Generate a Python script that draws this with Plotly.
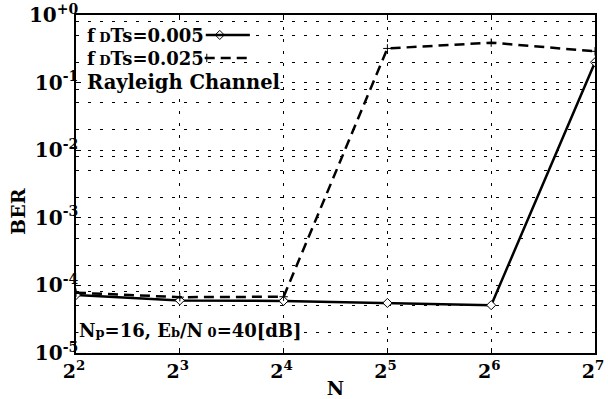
import plotly.graph_objects as go

# ---- data ----
N = [4, 8, 16, 32, 64, 128]
ber_fd005 = [7.2e-5, 6.0e-5, 5.9e-5, 5.5e-5, 5.1e-5, 0.20]
ber_fd025 = [7.8e-5, 6.7e-5, 6.8e-5, 0.32, 0.39, 0.29]
x_tickvals = [4, 8, 16, 32, 64, 128]
x_ticktext = ["2<sup>2</sup>", "2<sup>3</sup>", "2<sup>4</sup>", "2<sup>5</sup>", "2<sup>6</sup>", "2<sup>7</sup>"]
y_tickvals = [1e-5, 1e-4, 1e-3, 1e-2, 1e-1, 1]
y_ticktext = ["10<sup>-5</sup>", "10<sup>-4</sup>", "10<sup>-3</sup>", "10<sup>-2</sup>", "10<sup>-1</sup>", "10<sup>+0</sup>"]
y_minor = [m * 10.0 ** k for k in range(-5, 0) for m in (2, 5, 8)]
legend_labels = ["f<span style='font-size:13px'> D</span>Ts=0.005",
                 "f<span style='font-size:13px'> D</span>Ts=0.025",
                 "Rayleigh Channel"]
legend_sizes = [18, 18, 19.5]
note_text = ("N<span style='font-size:13px'>p</span>=16, E<span style='font-size:13px'>b</span>"
             "/N<span style='font-size:13px'> 0</span>=40[dB]")

FONT = "DejaVu Serif"

fig = go.Figure()
fig.add_trace(go.Scatter(
    x=N, y=ber_fd005, mode="lines+markers",
    line=dict(color="black", width=2.5),
    marker=dict(symbol="diamond", size=7, color="white", line=dict(color="black", width=1)),
    showlegend=False))
fig.add_trace(go.Scatter(
    x=N, y=ber_fd025, mode="lines+markers",
    line=dict(color="black", width=2.5, dash="10px,6px"),
    marker=dict(symbol="cross-thin", size=6, color="black", line=dict(color="black", width=1)),
    showlegend=False))

gridcol = "black"
GD = "3px,9px"
fig.update_xaxes(
    type="log", range=[0.60206, 2.10721], automargin=False,
    tickmode="array", tickvals=x_tickvals, ticktext=x_ticktext,
    showgrid=True, gridcolor=gridcol, griddash=GD, gridwidth=1,
    showline=True, linecolor="black", linewidth=1.5, mirror="allticks",
    ticks="inside", ticklen=5, tickcolor="black", ticklabelshift=-2,
    tickfont=dict(family=FONT, size=19, color="black", weight="bold"),
    title=dict(text="N", font=dict(family=FONT, size=19, color="black", weight="bold"), standoff=2),
    zeroline=False)
fig.update_yaxes(
    type="log", range=[-5, 0], automargin=False,
    tickmode="array", tickvals=y_tickvals, ticktext=y_ticktext,
    showgrid=True, gridcolor=gridcol, griddash=GD, gridwidth=1,
    minor=dict(tickmode="array", tickvals=y_minor, showgrid=True, gridcolor=gridcol,
               griddash=GD, gridwidth=1, ticks="inside", ticklen=3, tickcolor="black"),
    showline=True, linecolor="black", linewidth=1.5, mirror="allticks",
    ticks="inside", ticklen=5, tickcolor="black", ticklabelstandoff=-8,
    tickfont=dict(family=FONT, size=20, color="black", weight="bold"),
    zeroline=False)

annotations = []
rows_y = [0.938, 0.870, 0.800]
for lab, yy, fs in zip(legend_labels, rows_y, legend_sizes):
    annotations.append(dict(
        xref="paper", yref="paper", x=0.02, y=yy, xanchor="left", yanchor="middle",
        text=lab, showarrow=False, bgcolor="white", borderpad=0,
        font=dict(family=FONT, size=fs, color="black", weight="bold")))
annotations.append(dict(
    xref="paper", yref="paper", x=0.004, y=0.068, xanchor="left", yanchor="middle",
    text=note_text, showarrow=False, bgcolor="white", borderpad=0,
    font=dict(family=FONT, size=18, color="black", weight="bold")))
annotations.append(dict(
    xref="paper", yref="paper", x=-0.112, y=0.42, xanchor="center", yanchor="middle",
    text="BER", textangle=-90, showarrow=False,
    font=dict(family=FONT, size=19, color="black", weight="bold")))

shapes = [
    dict(type="rect", xref="paper", yref="paper", x0=0.24, x1=0.335, y0=0.91, y1=0.97,
         fillcolor="white", line=dict(width=0), layer="below"),
    dict(type="line", xref="paper", yref="paper", x0=0.25, x1=0.335, y0=0.941, y1=0.941,
         line=dict(color="black", width=2.5)),
    dict(type="rect", xref="paper", yref="paper", x0=0.24, x1=0.335, y0=0.845, y1=0.9,
         fillcolor="white", line=dict(width=0), layer="below"),
    dict(type="line", xref="paper", yref="paper", x0=0.248, x1=0.333, y0=0.873, y1=0.873,
         line=dict(color="black", width=2.5, dash="10px,6px")),
]
fig.update_layout(annotations=annotations, shapes=shapes)

fig.add_trace(go.Scatter(
    x=[0.277], y=[0.941], xaxis="x2", yaxis="y2", mode="markers",
    marker=dict(symbol="diamond", size=7, color="white", line=dict(color="black", width=1)),
    showlegend=False, hoverinfo="skip"))
fig.add_trace(go.Scatter(
    x=[0.252], y=[0.873], xaxis="x2", yaxis="y2", mode="markers",
    marker=dict(symbol="cross-thin", size=6, color="black", line=dict(color="black", width=1)),
    showlegend=False, hoverinfo="skip"))

fig.update_layout(
    xaxis2=dict(overlaying="x", range=[0, 1], visible=False),
    yaxis2=dict(overlaying="y", range=[0, 1], visible=False),
    width=608, height=399,
    margin=dict(l=76, r=13, t=15, b=46),
    paper_bgcolor="white", plot_bgcolor="white",
    font=dict(family=FONT, color="black"),
)

fig.write_html("out.html", config={"displayModeBar": False},
               post_script="document.body.style.margin='0px';document.body.style.overflow='hidden';")
